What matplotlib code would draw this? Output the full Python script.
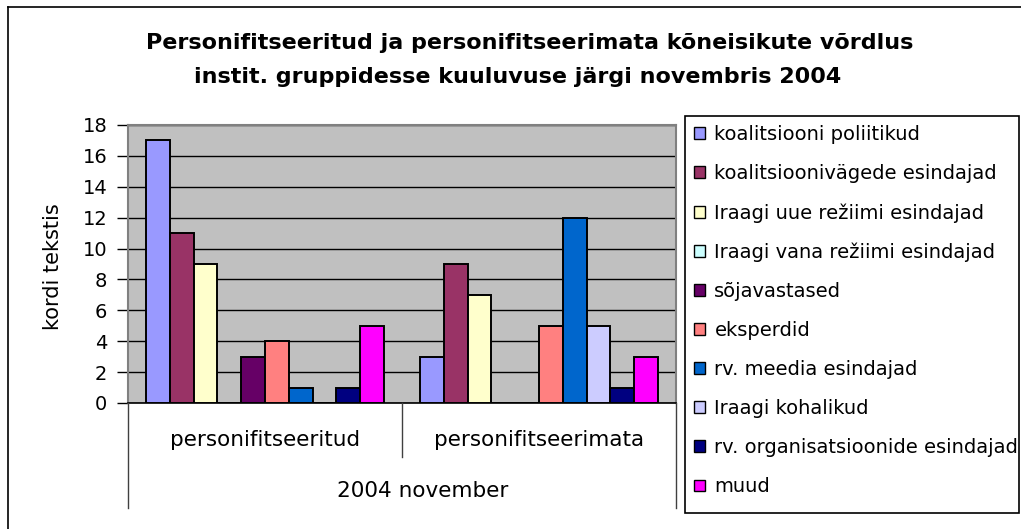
import matplotlib
matplotlib.use("Agg")
import matplotlib.pyplot as plt
import numpy as np
from matplotlib.lines import Line2D
from matplotlib.patches import Rectangle, Patch

plt.rcParams["font.family"] = ["DejaVu Sans"]

W, H = 1021, 529

categories = ["personifitseeritud", "personifitseerimata"]
group_label = "2004 november"
series = [
    "koalitsiooni poliitikud",
    "koalitsioonivägede esindajad",
    "Iraagi uue režiimi esindajad",
    "Iraagi vana režiimi esindajad",
    "sõjavastased",
    "eksperdid",
    "rv. meedia esindajad",
    "Iraagi kohalikud",
    "rv. organisatsioonide esindajad",
    "muud",
]
personified = [17, 11, 9, 0, 3, 4, 1, 0, 1, 5]
not_personified = [3, 9, 7, 0, 0, 5, 12, 5, 1, 3]
colors = ["#9999FF", "#993366", "#FFFFCC", "#CCFFFF", "#660066",
          "#FF8080", "#0066CC", "#CCCCFF", "#000080", "#FF00FF"]
yticks = list(range(0, 19, 2))
title_lines = ["Personifitseeritud ja personifitseerimata kõneisikute võrdlus",
               "instit. gruppidesse kuuluvuse järgi novembris 2004"]


def fx(px):
    return px / W


def fy(py):
    return 1 - py / H


fig = plt.figure(figsize=(W / 100, H / 100), dpi=100, facecolor="white")

# outer chart border (only left and top visible)
fig.add_artist(Line2D([fx(8), fx(8)], [fy(7), 0], transform=fig.transFigure, color="black", lw=1.2))
fig.add_artist(Line2D([fx(8), 1], [fy(7), fy(7)], transform=fig.transFigure, color="black", lw=1.2))

left, right, top, bottom = 128, 676, 125, 403
ax = fig.add_axes([fx(left), fy(bottom), fx(right - left), (bottom - top) / H])
ax.set_facecolor("#C0C0C0")

n = len(series)
bw = 1 / (n + 1.5)
values = np.array([personified, not_personified])
xc = np.arange(len(categories))
for i in range(n):
    xs = xc - 0.5 + 0.75 * bw + (i + 0.5) * bw
    ax.bar(xs, values[:, i], width=bw, color=colors[i], edgecolor="black",
           linewidth=1.4, zorder=3, label=series[i])

ax.set_xlim(-0.5, 1.5)
ax.set_ylim(0, 18)
ax.set_yticks(yticks)
ax.yaxis.grid(True, color="black", linewidth=1.0, zorder=1)
ax.set_axisbelow(True)
ax.set_xticks([])
ax.tick_params(axis="y", direction="out", length=8, width=1, pad=7, labelsize=14)
for s in ["top", "right", "left"]:
    ax.spines[s].set_color("#808080")
    ax.spines[s].set_linewidth(1.5)
ax.spines["bottom"].set_color("black")
ax.spines["bottom"].set_linewidth(1.2)

fig.text(fx(53), fy(267), "kordi tekstis", rotation=90, ha="center", va="center", fontsize=15)

# multi-level category axis
mid = (left + right) / 2
for xpx, ybot in [(left, 508), (mid, 457), (right, 508)]:
    fig.add_artist(Line2D([fx(xpx), fx(xpx)], [fy(bottom), fy(ybot)],
                          transform=fig.transFigure, color="#404040", lw=1.0))
for k, cat in enumerate(categories):
    cx = (left + mid) / 2 if k == 0 else (mid + right) / 2
    fig.text(fx(cx), fy(440), cat, ha="center", va="center", fontsize=15.5)
fig.text(fx(423), fy(491), group_label, ha="center", va="center", fontsize=15.5)

fig.text(fx(530), fy(49), title_lines[0], ha="center", va="baseline", fontsize=16,
         fontweight="bold")
fig.text(fx(518), fy(83), title_lines[1], ha="center", va="baseline", fontsize=16,
         fontweight="bold")

# legend with manual frame
fig.add_artist(Rectangle((fx(685), fy(513)), fx(1019 - 685), (513 - 116) / H,
                         transform=fig.transFigure, fill=False, edgecolor="black", lw=1.2))
handles = [Patch(facecolor=c, edgecolor="black", linewidth=1.0) for c in colors]
fig.legend(handles, series, loc="upper left", bbox_to_anchor=(fx(694), fy(125)),
           frameon=False, fontsize=14, handlelength=0.55, handleheight=0.55,
           handletextpad=0.5, labelspacing=1.03, borderpad=0, borderaxespad=0)

fig.savefig("out.png", dpi=100, facecolor="white")
